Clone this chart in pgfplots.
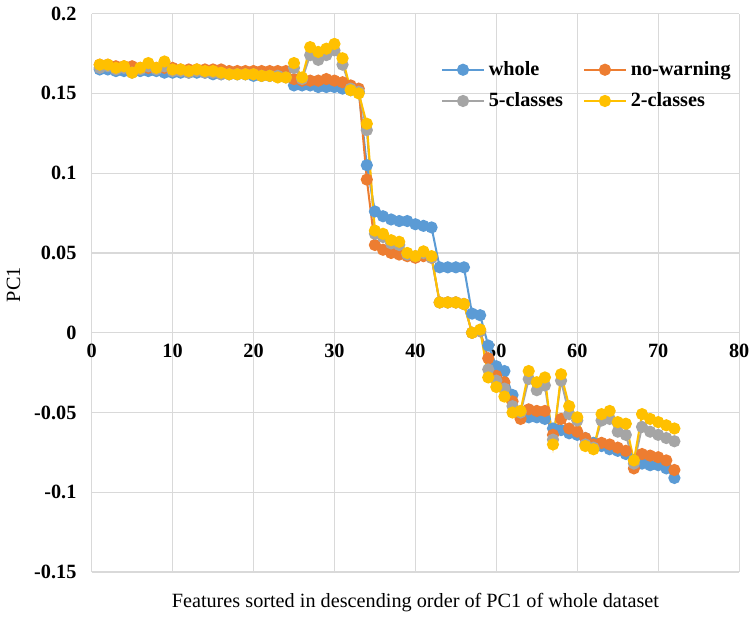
\documentclass[border=0pt]{standalone}
\usepackage{fontspec}
\setmainfont{Liberation Serif}
\usepackage{pgfplots}
\pgfplotsset{compat=1.18}

\definecolor{cwhole}{HTML}{5B9BD5}
\definecolor{cnowarn}{HTML}{ED7D31}
\definecolor{cfive}{HTML}{A5A5A5}
\definecolor{ctwo}{HTML}{FFC000}
\definecolor{gridc}{HTML}{D9D9D9}

\pgfplotstableread{
x whole nowarn five two
1 0.165 0.168 0.166 0.168
2 0.165 0.168 0.167 0.168
3 0.164 0.167 0.165 0.166
4 0.164 0.167 0.166 0.167
5 0.164 0.167 0.163 0.163
6 0.164 0.166 0.165 0.166
7 0.164 0.166 0.167 0.169
8 0.164 0.166 0.165 0.166
9 0.163 0.166 0.167 0.170
10 0.163 0.166 0.164 0.165
11 0.163 0.165 0.164 0.165
12 0.163 0.165 0.163 0.164
13 0.163 0.165 0.164 0.165
14 0.163 0.165 0.163 0.164
15 0.162 0.165 0.163 0.164
16 0.162 0.165 0.162 0.163
17 0.162 0.164 0.162 0.162
18 0.162 0.164 0.162 0.162
19 0.162 0.164 0.162 0.162
20 0.161 0.164 0.162 0.162
21 0.161 0.164 0.161 0.161
22 0.161 0.164 0.161 0.161
23 0.161 0.164 0.161 0.160
24 0.161 0.164 0.160 0.160
25 0.155 0.159 0.166 0.169
26 0.155 0.158 0.159 0.160
27 0.155 0.158 0.174 0.179
28 0.154 0.158 0.171 0.176
29 0.154 0.159 0.174 0.178
30 0.154 0.158 0.177 0.181
31 0.153 0.157 0.168 0.172
32 0.152 0.155 0.153 0.152
33 0.151 0.153 0.151 0.150
34 0.105 0.096 0.127 0.131
35 0.076 0.055 0.062 0.064
36 0.073 0.052 0.060 0.062
37 0.071 0.050 0.056 0.058
38 0.070 0.049 0.055 0.057
39 0.070 0.048 0.049 0.050
40 0.068 0.047 0.048 0.048
41 0.067 0.048 0.050 0.051
42 0.066 0.047 0.047 0.048
43 0.041 0.019 0.019 0.019
44 0.041 0.019 0.019 0.019
45 0.041 0.019 0.019 0.019
46 0.041 0.018 0.018 0.018
47 0.012 0.000 0.000 0.000
48 0.011 0.001 0.001 0.002
49 -0.008 -0.016 -0.023 -0.028
50 -0.021 -0.027 -0.030 -0.034
51 -0.024 -0.031 -0.035 -0.040
52 -0.039 -0.043 -0.046 -0.050
53 -0.052 -0.054 -0.050 -0.049
54 -0.053 -0.048 -0.029 -0.024
55 -0.053 -0.049 -0.036 -0.031
56 -0.054 -0.049 -0.033 -0.028
57 -0.060 -0.064 -0.067 -0.070
58 -0.061 -0.054 -0.030 -0.026
59 -0.063 -0.060 -0.051 -0.046
60 -0.064 -0.062 -0.055 -0.053
61 -0.066 -0.066 -0.070 -0.071
62 -0.069 -0.070 -0.072 -0.073
63 -0.071 -0.069 -0.055 -0.051
64 -0.073 -0.070 -0.054 -0.049
65 -0.074 -0.072 -0.062 -0.056
66 -0.076 -0.074 -0.064 -0.057
67 -0.080 -0.085 -0.082 -0.080
68 -0.082 -0.076 -0.059 -0.051
69 -0.083 -0.077 -0.062 -0.054
70 -0.083 -0.078 -0.064 -0.056
71 -0.085 -0.080 -0.066 -0.058
72 -0.091 -0.086 -0.068 -0.060
}\pcdata

\begin{document}
\begin{tikzpicture}
\begin{axis}[
    scale only axis,
    width=320pt, height=276pt,
    xmin=0, xmax=80, ymin=-0.15, ymax=0.2,
    axis x line=middle, axis y line=left,
    hide obscured x ticks=false,
    axis line style={-, draw=gridc, line width=0.6pt},
    major tick length=0pt,
    grid=major,
    grid style={draw=gridc, line width=0.6pt},
    xtick={0,10,...,80},
    ytick={-0.15,-0.1,-0.05,0,0.05,0.1,0.15,0.2},
    yticklabels={-0.15,-0.1,-0.05,0,0.05,0.1,0.15,0.2},
    /pgf/number format/assume math mode=true,
    tick label style={font=\bfseries\fontsize{10}{12}\selectfont},
    xticklabel style={yshift=-2pt},
    yticklabel style={xshift=-4pt},
    xlabel={Features sorted in descending order of PC1 of whole dataset},
    x label style={at={(axis description cs:0.5,0)}, anchor=north, yshift=-7pt, font=\fontsize{10}{12}\selectfont},
    ylabel={PC1},
    y label style={font=\fontsize{10}{12}\selectfont, xshift=4pt},
    legend cell align=left,
    legend style={draw=none, fill=none, at={(0.53,0.93)}, anchor=north west,
        legend columns=2, font=\bfseries\fontsize{10}{12}\selectfont,
        /tikz/every even column/.append style={column sep=8pt},
        row sep=3pt},
    legend image code/.code={\draw[mark repeat=2,mark phase=2,#1] plot coordinates {(0cm,0cm) (0.36cm,0cm) (0.72cm,0cm)};},
    every axis plot/.append style={line width=1pt, mark=*, mark size=2.5pt},
]
\addplot[color=cwhole, mark options={fill=cwhole, draw=cwhole}] table[x=x, y=whole] {\pcdata};
\addplot[color=cnowarn, mark options={fill=cnowarn, draw=cnowarn}] table[x=x, y=nowarn] {\pcdata};
\addplot[color=cfive, mark options={fill=cfive, draw=cfive}] table[x=x, y=five] {\pcdata};
\addplot[color=ctwo, mark options={fill=ctwo, draw=ctwo}] table[x=x, y=two] {\pcdata};
\legend{whole, no-warning, 5-classes, 2-classes}
\end{axis}
\end{tikzpicture}
\end{document}
